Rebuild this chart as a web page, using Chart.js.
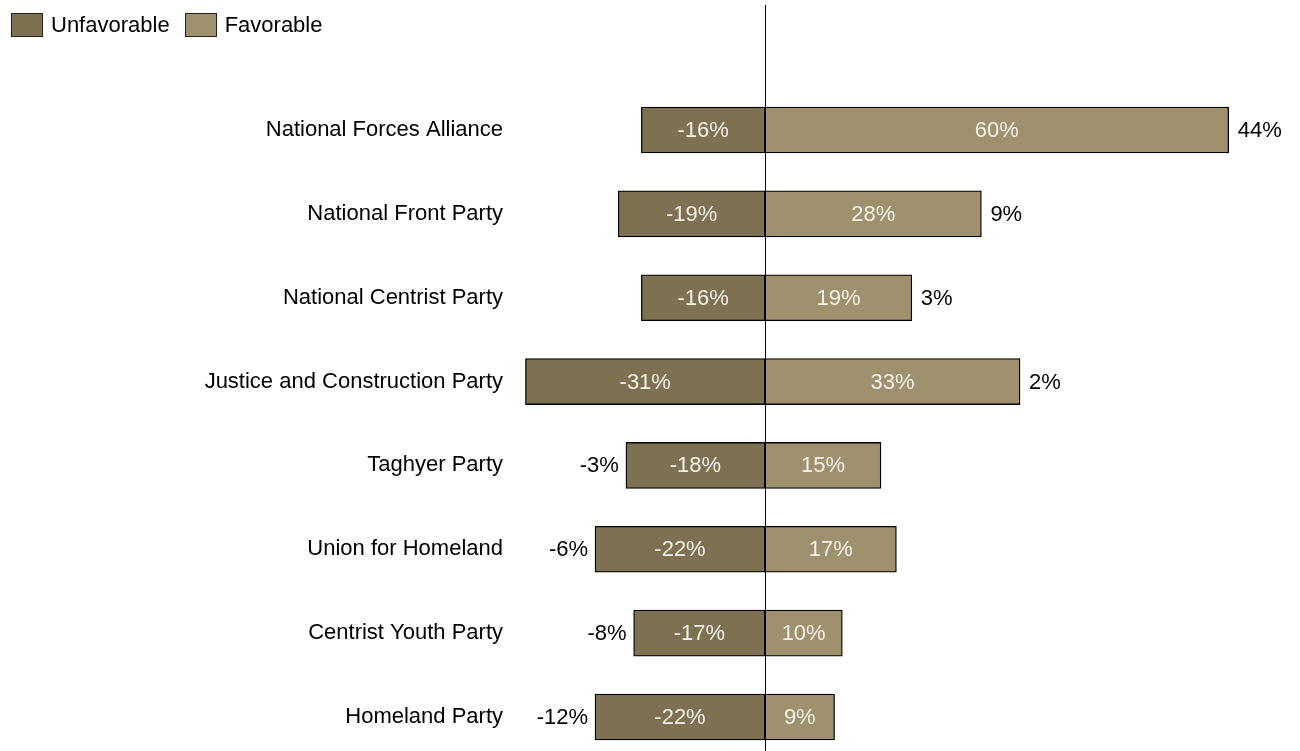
<!DOCTYPE html>
<html>
<head>
<meta charset="utf-8">
<script src="https://cdn.jsdelivr.net/npm/chart.js@4/dist/chart.umd.min.js"></script>
<style>
  html, body { margin: 0; padding: 0; background: #fff; }
  #wrap { position: relative; width: 1300px; height: 751px; }
  #legend { position: absolute; left: 11px; top: 12px; display: flex; align-items: center;
    font: 22px "Liberation Sans", Arial, sans-serif; color: #000; }
  #legend .item { display: flex; align-items: center; margin-right: 15px; }
  #legend .box { width: 30px; height: 22px; border: 1px solid #222; margin-right: 8px; }
</style>
</head>
<body>
<div id="wrap">
  <canvas id="chart"></canvas>
  <div id="legend"></div>
</div>
<script>
// Favorability by party: unfavorable (negative), favorable, net

const categories = [
  "National Forces Alliance",
  "National Front Party",
  "National Centrist Party",
  "Justice and Construction Party",
  "Taghyer Party",
  "Union for Homeland",
  "Centrist Youth Party",
  "Homeland Party"
];

const unfavorable = [-16, -19, -16, -31, -18, -22, -17, -22];
const favorable = [60, 28, 19, 33, 15, 17, 10, 9];
const net = [44, 9, 3, 2, -3, -6, -8, -12];

const seriesNames = ["Unfavorable", "Favorable"];
const colors = ["#7d7152", "#a0916e"];

const FONT = '"Liberation Sans", Arial, sans-serif';
const pct = v => v + "%";

// legend
const legend = document.getElementById("legend");
seriesNames.forEach((name, i) => {
  const item = document.createElement("div");
  item.className = "item";
  item.innerHTML = `<div class="box" style="background:${colors[i]}"></div><span>${name}</span>`;
  legend.appendChild(item);
});

// zero line that runs past the plot area, like the original
const zeroLine = {
  id: "zeroLine",
  afterDatasetsDraw(chart) {
    const ctx = chart.ctx;
    const x = Math.round(chart.scales.x.getPixelForValue(0)) + 0.5;
    ctx.save();
    ctx.strokeStyle = "#000";
    ctx.lineWidth = 1;
    ctx.beginPath();
    ctx.moveTo(x, 5);
    ctx.lineTo(x, chart.height);
    ctx.stroke();
    ctx.restore();
  }
};

// value labels inside the bars and net labels at the end
const barLabels = {
  id: "barLabels",
  afterDatasetsDraw(chart) {
    const ctx = chart.ctx;
    ctx.save();
    ctx.font = "22px " + FONT;
    ctx.textBaseline = "middle";

    chart.data.datasets.forEach((ds, di) => {
      chart.getDatasetMeta(di).data.forEach((bar, i) => {
        ctx.fillStyle = "#f4f1ea";
        ctx.textAlign = "center";
        ctx.fillText(pct(ds.data[i]), (bar.x + bar.base) / 2, bar.y + 1);
      });
    });

    const negMeta = chart.getDatasetMeta(0).data;
    const posMeta = chart.getDatasetMeta(1).data;
    ctx.fillStyle = "#000";
    net.forEach((v, i) => {
      if (v >= 0) {
        ctx.textAlign = "left";
        ctx.fillText(pct(v), posMeta[i].x + 9, posMeta[i].y + 1);
      } else {
        ctx.textAlign = "right";
        ctx.fillText(pct(v), negMeta[i].x - 7, negMeta[i].y + 1);
      }
    });
    ctx.restore();
  }
};

new Chart(document.getElementById("chart"), {
  type: "bar",
  data: {
    labels: categories,
    datasets: [
      { label: seriesNames[0], data: unfavorable, backgroundColor: colors[0] },
      { label: seriesNames[1], data: favorable, backgroundColor: colors[1] }
    ]
  },
  options: {
    indexAxis: "y",
    responsive: true,
    maintainAspectRatio: false,
    animation: false,
    layout: { padding: { top: 130, bottom: 34, left: 0, right: 32.7 } },
    datasets: {
      bar: {
        barThickness: 46,
        borderWidth: 1.3,
        borderColor: "#000",
        borderSkipped: false,
        clip: false
      }
    },
    scales: {
      x: {
        stacked: true,
        display: false,
        min: -33,
        max: 65
      },
      y: {
        stacked: true,
        offset: false,
        grid: { display: false, drawTicks: false },
        border: { display: false },
        ticks: {
          color: "#000",
          padding: 7,
          font: { family: FONT, size: 22 }
        },
        afterFit(scale) { scale.width = 510; }
      }
    },
    plugins: {
      legend: { display: false },
      tooltip: { enabled: false }
    }
  },
  plugins: [zeroLine, barLabels]
});
</script>
</body>
</html>
